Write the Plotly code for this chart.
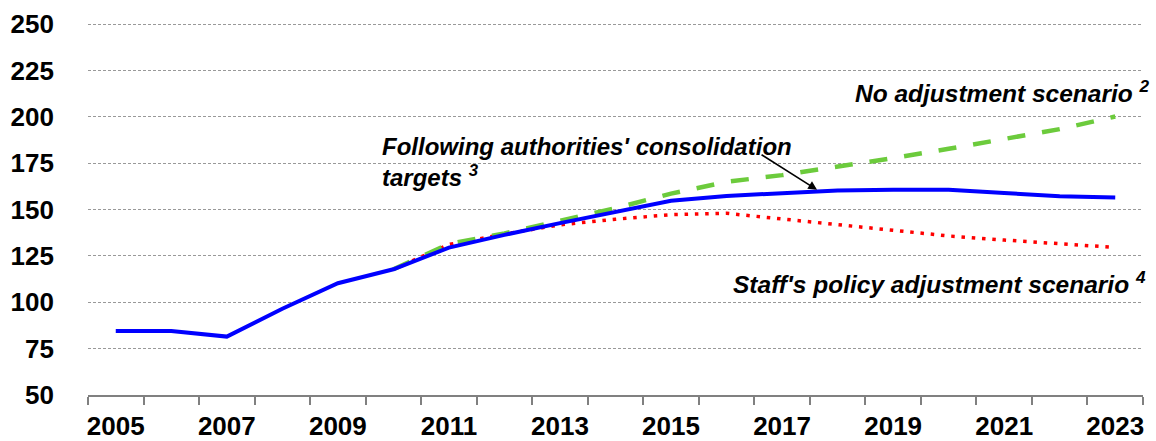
import plotly.graph_objects as go

years = list(range(2005, 2024))
baseline = [84.5, 84.5, 81.5, 96.5, 110.3, 117.8, 129.5, 136.4, 142.7, 148.9, 154.8,
            157.4, 159.0, 160.3, 160.7, 160.7, 159.0, 157.2, 156.5]
proj_years = list(range(2010, 2024))
no_adjust = [117.8, 131.5, 137.2, 144.0, 150.8, 158.6, 165.0, 168.6, 173.0, 177.8,
             182.8, 188.0, 193.4, 200.2]
staff_policy = [117.8, 131.2, 136.8, 141.8, 144.8, 147.3, 148.0, 145.0, 141.8, 138.7,
                135.8, 133.6, 131.5, 129.6]

y_ticks = [50, 75, 100, 125, 150, 175, 200, 225, 250]
x_ticks = list(range(2005, 2024, 2))

FONT = "Liberation Sans"

fig = go.Figure()
fig.add_trace(go.Scatter(x=proj_years, y=staff_policy, mode="lines",
                         line=dict(color="#FF0000", width=3.5, dash="3.5px,6.8px"),
                         name="Staff's policy adjustment scenario"))
fig.add_trace(go.Scatter(x=proj_years, y=no_adjust, mode="lines",
                         line=dict(color="#6CCB3C", width=4.5, dash="18px,17px"),
                         name="No adjustment scenario"))
fig.add_trace(go.Scatter(x=years, y=baseline, mode="lines",
                         line=dict(color="#0000FF", width=4),
                         name="Following authorities' consolidation targets"))

ann_font = dict(family=FONT, size=24.5, color="black", weight="bold", style="italic")
fig.add_annotation(xref="paper", yref="y", x=1.0085, y=213.6, xanchor="right", yanchor="middle",
                   text="No adjustment scenario <sup>2</sup>", showarrow=False, font=ann_font)
fig.add_annotation(xref="paper", yref="y", x=0.2768, y=175.5, xanchor="left", yanchor="middle",
                   align="left",
                   text="Following authorities' consolidation<br>targets <sup>3</sup>",
                   showarrow=False, font=dict(ann_font, size=24))
fig.add_annotation(xref="paper", yref="y", x=1.0045, y=110.5, xanchor="right", yanchor="middle",
                   text="Staff's policy adjustment scenario <sup>4</sup>", showarrow=False,
                   font=ann_font)
fig.add_annotation(xref="x", yref="y", x=2017.63, y=160.7, ax=-57, ay=-36, text="",
                   showarrow=True, arrowhead=2, arrowsize=1.1, arrowwidth=1.6, arrowcolor="black")

fig.update_layout(
    width=1156, height=441,
    margin=dict(l=88, r=13, t=22, b=46, autoexpand=False),
    paper_bgcolor="white", plot_bgcolor="white",
    showlegend=False,
    font=dict(family=FONT, color="black"),
)
fig.update_xaxes(
    range=[2004.5, 2023.5], tickmode="array", tickvals=x_ticks, ticktext=[str(v) for v in x_ticks],
    ticks="", showgrid=False, showline=True, linecolor="#808080", linewidth=2,
    tickfont=dict(family=FONT, size=26, color="black", weight="bold"),
    ticklabelstandoff=7, automargin=False,
    minor=dict(ticks="outside", tick0=2004.5, dtick=1, ticklen=8, tickwidth=2,
               tickcolor="#808080", showgrid=False),
    zeroline=False,
)
fig.update_yaxes(
    range=[50, 251.2], tickmode="array", tickvals=y_ticks, ticktext=[str(v) for v in y_ticks],
    ticks="", showgrid=True, gridcolor="#999999", gridwidth=1, griddash="3px,2px",
    showline=False, zeroline=False, automargin=False,
    tickfont=dict(family=FONT, size=26, color="black", weight="bold"),
    ticklabelstandoff=33,
)

fig.write_html(
    "out.html",
    config={"displayModeBar": False},
    post_script="document.body.style.margin='0';document.body.style.overflow='hidden';",
)
